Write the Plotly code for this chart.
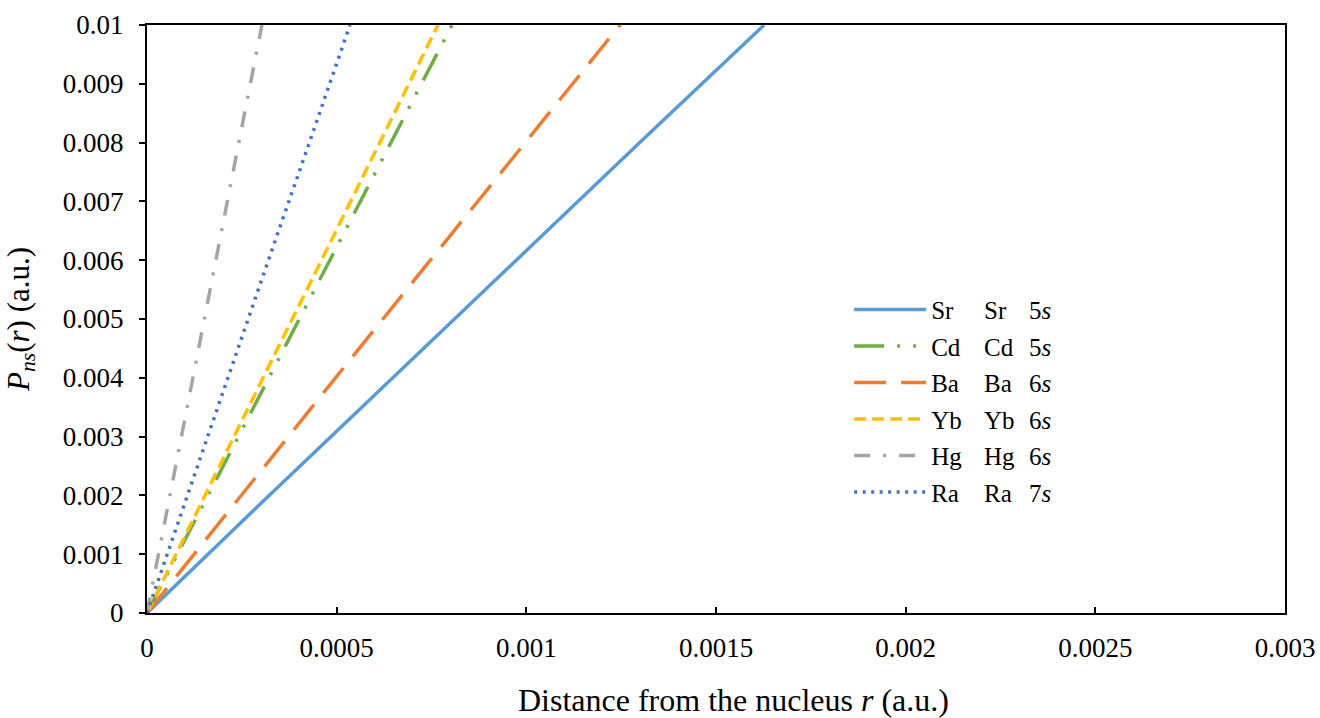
import plotly.graph_objects as go

# Radial function P_ns(r) near the nucleus, sampled values (r in a.u.)
elements = ["Sr", "Cd", "Ba", "Yb", "Hg", "Ra"]
shells = ["5", "5", "6", "6", "6", "7"]

p_values = [0.0, 0.002, 0.004, 0.006, 0.008, 0.010]
r_sr = [0.0, 0.000322, 0.000648, 0.000973, 0.001299, 0.001627]
r_cd = [0.0, 0.000160, 0.000321, 0.000482, 0.000643, 0.000804]
r_ba = [0.0, 0.000248, 0.000497, 0.000747, 0.000997, 0.001247]
r_yb = [0.0, 0.000152, 0.000306, 0.000460, 0.000613, 0.000767]
r_hg = [0.0, 0.000060, 0.000121, 0.000181, 0.000242, 0.000303]
r_ra = [0.0, 0.000106, 0.000213, 0.000320, 0.000428, 0.000535]

x_tick_vals = [0, 0.0005, 0.001, 0.0015, 0.002, 0.0025, 0.003]
x_tick_text = ["0", "0.0005", "0.001", "0.0015", "0.002", "0.0025", "0.003"]
y_tick_vals = [0, 0.001, 0.002, 0.003, 0.004, 0.005, 0.006, 0.007, 0.008, 0.009, 0.01]
y_tick_text = ["0", "0.001", "0.002", "0.003", "0.004", "0.005", "0.006",
               "0.007", "0.008", "0.009", "0.01"]

series_r = [r_sr, r_cd, r_ba, r_yb, r_hg, r_ra]
colors = ["#5B9BD5", "#70AD47", "#ED7D31", "#FFC000", "#A5A5A5", "#4472C4"]
dashes = ["solid", "30px,13px,3px,13px,3px,13px", "32px,15px", "12px,6px",
          "16px,13px,3px,13px", "3px,5.5px"]

FONT = "Times New Roman, Liberation Serif, DejaVu Serif, serif"

fig = go.Figure()
for name, r, c, d in zip(elements, series_r, colors, dashes):
    fig.add_trace(go.Scatter(
        x=r, y=p_values, mode="lines", name=name, legendgroup=name,
        line=dict(color=c, width=3.5, dash=d),
    ))

# second legend column: element and valence shell
row_y0, row_dy = 0.5145, 0.0622
for i, (el, n) in enumerate(zip(elements, shells)):
    y = row_y0 - i * row_dy
    fig.add_annotation(x=0.734, y=y, xref="paper", yref="paper",
                       text=el, showarrow=False, xanchor="left",
                       yanchor="middle", font=dict(family=FONT, size=25, color="black"))
    fig.add_annotation(x=0.7736, y=y, xref="paper", yref="paper",
                       text=f"{n}<i>s</i>", showarrow=False, xanchor="left",
                       yanchor="middle", font=dict(family=FONT, size=25, color="black"))

# x-axis title, set slightly right of the plot centre
fig.add_annotation(x=0.515, y=-0.148, xref="paper", yref="paper",
                   text="Distance from the nucleus <i>r</i> (a.u.)", showarrow=False,
                   xanchor="center", yanchor="middle",
                   font=dict(family=FONT, size=32, color="black"))

fig.update_layout(
    width=1320, height=718,
    margin=dict(l=147, r=35, t=25, b=105),
    paper_bgcolor="white", plot_bgcolor="white",
    font=dict(family=FONT, size=27, color="black"),
    showlegend=True,
    legend=dict(x=0.617, y=0.555, xanchor="left", yanchor="top",
                font=dict(family=FONT, size=25), traceorder="grouped",
                tracegroupgap=1, bgcolor="rgba(0,0,0,0)", itemwidth=72),
    xaxis=dict(range=[0, 0.003], tickvals=x_tick_vals, ticktext=x_tick_text,
               showgrid=False, zeroline=False, showline=True, linecolor="black",
               linewidth=2, mirror=True, ticks="inside", ticklen=6, tickwidth=2,
               tickcolor="black", tickfont=dict(size=27), ticklabelstandoff=10,
               automargin=False),
    yaxis=dict(range=[0, 0.01], tickvals=y_tick_vals, ticktext=y_tick_text,
               showgrid=False, zeroline=False, showline=True, linecolor="black",
               linewidth=2, mirror=True, ticks="outside", ticklen=6, tickwidth=2,
               tickcolor="black", tickfont=dict(size=27), ticklabelstandoff=10,
               automargin=False,
               title=dict(text="<i>P</i><sub><i>ns</i></sub>(<i>r</i>) (a.u.)",
                          font=dict(size=31), standoff=24)),
)

fig.write_html("out.html")
